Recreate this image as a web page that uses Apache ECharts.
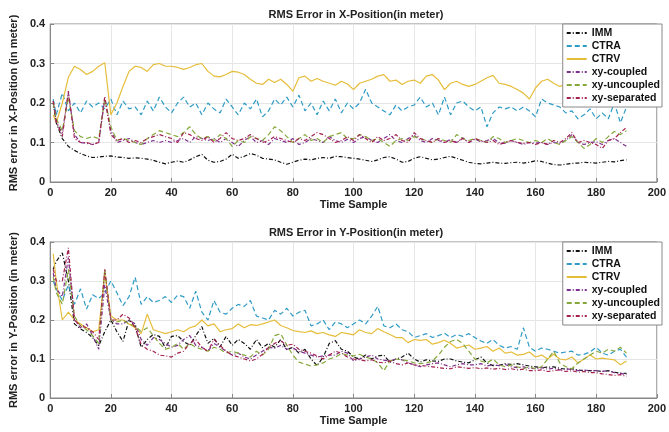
<!DOCTYPE html>
<html>
<head>
<meta charset="utf-8">
<script src="https://cdn.jsdelivr.net/npm/echarts@6/dist/echarts.min.js"></script>
<style>
html,body{margin:0;padding:0;background:#fff}
#chart{width:669px;height:432px}
</style>
</head>
<body>
<div id="chart"></div>
<script>
// sample index (time sample)
var xs = [1,2,4,6,8,10,12,14,16,18,20,22,24,26,28,30,32,34,36,38,40,42,44,46,48,50,52,54,56,58,
  60,62,64,66,68,70,72,74,76,78,80,82,84,86,88,90,92,94,96,98,100,102,104,106,108,110,112,114,116,118,
  120,122,124,126,128,130,132,134,136,138,140,142,144,146,148,150,152,154,156,158,
  160,162,164,166,168,170,172,174,176,178,180,182,184,186,188,190];

var names = ['IMM','CTRA','CTRV','xy-coupled','xy-uncoupled','xy-separated'];

// RMS error in X
var immX = [0.20,0.15,0.11,0.09,0.08,0.072,0.066,0.062,0.063,0.065,
  0.066,0.063,0.062,0.060,0.061,0.060,0.058,0.055,0.050,0.046,
  0.050,0.053,0.050,0.056,0.064,0.070,0.055,0.050,0.052,0.058,
  0.070,0.060,0.065,0.072,0.068,0.060,0.058,0.056,0.050,0.045,
  0.050,0.055,0.058,0.056,0.060,0.062,0.060,0.065,0.064,0.062,
  0.060,0.058,0.055,0.052,0.056,0.062,0.064,0.058,0.050,0.052,
  0.060,0.064,0.060,0.056,0.058,0.062,0.065,0.060,0.055,0.050,
  0.047,0.046,0.048,0.050,0.048,0.047,0.049,0.050,0.048,0.050,
  0.054,0.052,0.048,0.044,0.043,0.045,0.047,0.048,0.050,0.049,
  0.048,0.050,0.052,0.051,0.054,0.056];
var ctraX = [0.21,0.17,0.225,0.18,0.2,0.175,0.205,0.19,0.2,0.185,
  0.21,0.17,0.205,0.185,0.19,0.17,0.205,0.18,0.215,0.19,
  0.175,0.2,0.215,0.19,0.2,0.17,0.2,0.185,0.175,0.21,
  0.19,0.17,0.2,0.185,0.21,0.165,0.18,0.21,0.195,0.215,
  0.19,0.22,0.18,0.2,0.17,0.205,0.18,0.21,0.175,0.2,
  0.185,0.2,0.235,0.2,0.19,0.18,0.17,0.195,0.18,0.19,
  0.195,0.215,0.19,0.2,0.17,0.215,0.17,0.2,0.205,0.19,
  0.18,0.19,0.14,0.175,0.19,0.185,0.19,0.18,0.19,0.18,
  0.165,0.21,0.2,0.195,0.19,0.175,0.18,0.16,0.17,0.185,
  0.16,0.175,0.16,0.2,0.15,0.19];
var ctrvX = [0.17,0.15,0.2,0.265,0.293,0.285,0.272,0.28,0.293,0.302,
  0.17,0.2,0.242,0.28,0.293,0.29,0.28,0.297,0.3,0.293,
  0.293,0.29,0.285,0.29,0.297,0.3,0.28,0.268,0.266,0.272,
  0.28,0.278,0.272,0.26,0.25,0.247,0.26,0.252,0.26,0.247,
  0.23,0.264,0.268,0.255,0.262,0.255,0.25,0.245,0.255,0.248,
  0.234,0.25,0.255,0.26,0.268,0.272,0.255,0.258,0.247,0.255,
  0.258,0.25,0.268,0.272,0.258,0.234,0.25,0.255,0.247,0.242,
  0.247,0.255,0.264,0.27,0.25,0.247,0.242,0.234,0.225,0.21,
  0.238,0.255,0.26,0.25,0.242,0.248,0.24,0.25,0.245,0.24,
  0.245,0.25,0.24,0.248,0.238,0.245];
var coupX = [0.205,0.15,0.125,0.225,0.12,0.1,0.098,0.095,0.1,0.21,
  0.13,0.1,0.105,0.11,0.1,0.095,0.1,0.105,0.1,0.105,
  0.1,0.105,0.11,0.1,0.115,0.11,0.105,0.11,0.1,0.11,
  0.1,0.09,0.105,0.115,0.1,0.105,0.095,0.11,0.105,0.1,
  0.11,0.095,0.1,0.11,0.105,0.1,0.115,0.105,0.1,0.108,
  0.1,0.11,0.115,0.105,0.1,0.11,0.12,0.105,0.1,0.11,
  0.118,0.105,0.1,0.11,0.105,0.1,0.108,0.1,0.112,0.1,
  0.108,0.102,0.105,0.11,0.1,0.098,0.105,0.1,0.095,0.1,
  0.098,0.1,0.095,0.1,0.098,0.105,0.12,0.1,0.095,0.1,
  0.102,0.095,0.105,0.11,0.1,0.09];
var uncoupX = [0.2,0.16,0.13,0.215,0.13,0.115,0.11,0.115,0.11,0.21,
  0.14,0.105,0.11,0.105,0.1,0.095,0.11,0.12,0.13,0.125,
  0.12,0.115,0.125,0.14,0.12,0.11,0.115,0.105,0.12,0.11,
  0.09,0.105,0.1,0.115,0.11,0.105,0.12,0.14,0.13,0.115,
  0.1,0.11,0.12,0.105,0.11,0.1,0.115,0.12,0.125,0.11,
  0.11,0.12,0.115,0.105,0.11,0.1,0.09,0.105,0.11,0.105,
  0.115,0.11,0.105,0.1,0.11,0.105,0.1,0.12,0.11,0.105,
  0.11,0.105,0.1,0.115,0.11,0.1,0.105,0.11,0.105,0.1,
  0.105,0.1,0.11,0.1,0.095,0.105,0.115,0.1,0.085,0.095,
  0.11,0.1,0.115,0.128,0.12,0.13];
var sepX = [0.205,0.155,0.115,0.23,0.11,0.1,0.1,0.095,0.1,0.217,
  0.12,0.105,0.11,0.1,0.105,0.1,0.11,0.115,0.12,0.115,
  0.11,0.1,0.125,0.12,0.11,0.105,0.115,0.1,0.11,0.125,
  0.11,0.105,0.11,0.12,0.11,0.1,0.105,0.115,0.11,0.105,
  0.1,0.11,0.105,0.115,0.125,0.12,0.11,0.1,0.105,0.115,
  0.105,0.12,0.11,0.1,0.115,0.105,0.11,0.12,0.105,0.1,
  0.125,0.11,0.105,0.1,0.11,0.1,0.105,0.1,0.11,0.1,
  0.11,0.105,0.1,0.105,0.095,0.1,0.105,0.1,0.098,0.1,
  0.095,0.1,0.095,0.105,0.1,0.11,0.125,0.1,0.105,0.1,
  0.095,0.085,0.105,0.11,0.125,0.138];

// RMS error in Y
var immY = [0.33,0.35,0.372,0.3,0.19,0.177,0.168,0.155,0.134,0.17,
  0.2,0.17,0.145,0.2,0.185,0.13,0.15,0.163,0.158,0.128,
  0.158,0.16,0.145,0.135,0.16,0.183,0.14,0.153,0.131,0.158,
  0.135,0.15,0.14,0.125,0.15,0.129,0.14,0.13,0.15,0.124,
  0.13,0.115,0.125,0.1,0.083,0.105,0.14,0.147,0.125,0.12,
  0.105,0.1,0.11,0.1,0.108,0.11,0.092,0.1,0.105,0.115,
  0.1,0.092,0.098,0.095,0.094,0.1,0.1,0.095,0.092,0.09,
  0.098,0.105,0.09,0.083,0.084,0.088,0.086,0.088,0.085,0.082,
  0.08,0.078,0.079,0.08,0.076,0.074,0.075,0.072,0.07,0.07,
  0.07,0.068,0.07,0.066,0.064,0.063];
var ctraY = [0.3,0.28,0.25,0.29,0.24,0.28,0.228,0.265,0.255,0.27,
  0.3,0.27,0.237,0.26,0.31,0.24,0.26,0.245,0.25,0.26,
  0.245,0.264,0.26,0.23,0.274,0.22,0.2,0.25,0.22,0.215,
  0.23,0.24,0.235,0.25,0.21,0.205,0.2,0.225,0.215,0.23,
  0.21,0.22,0.225,0.185,0.19,0.2,0.175,0.195,0.19,0.18,
  0.19,0.2,0.19,0.21,0.235,0.185,0.18,0.19,0.175,0.17,
  0.155,0.16,0.165,0.155,0.16,0.166,0.155,0.163,0.158,0.165,
  0.155,0.146,0.14,0.15,0.135,0.128,0.132,0.125,0.18,0.13,
  0.12,0.128,0.125,0.12,0.115,0.118,0.12,0.11,0.112,0.118,
  0.13,0.115,0.11,0.12,0.125,0.105];
var ctrvY = [0.37,0.3,0.2,0.22,0.2,0.19,0.18,0.17,0.175,0.32,
  0.21,0.2,0.2,0.19,0.18,0.165,0.215,0.175,0.17,0.165,
  0.17,0.175,0.17,0.18,0.185,0.2,0.185,0.19,0.17,0.175,
  0.178,0.19,0.18,0.188,0.186,0.19,0.195,0.2,0.186,0.18,
  0.173,0.17,0.168,0.172,0.165,0.168,0.162,0.158,0.168,0.165,
  0.162,0.175,0.168,0.165,0.178,0.17,0.163,0.155,0.155,0.142,
  0.15,0.148,0.15,0.138,0.142,0.148,0.14,0.128,0.132,0.136,
  0.125,0.128,0.132,0.12,0.128,0.115,0.118,0.11,0.112,0.118,
  0.105,0.11,0.1,0.112,0.1,0.098,0.105,0.09,0.1,0.11,
  0.1,0.102,0.1,0.098,0.085,0.095];
var coupY = [0.32,0.28,0.26,0.36,0.2,0.18,0.19,0.16,0.125,0.29,
  0.2,0.19,0.19,0.2,0.19,0.15,0.135,0.155,0.15,0.14,
  0.13,0.135,0.15,0.16,0.135,0.13,0.12,0.14,0.13,0.12,
  0.11,0.115,0.105,0.1,0.11,0.12,0.13,0.128,0.135,0.125,
  0.128,0.12,0.115,0.11,0.105,0.108,0.11,0.11,0.12,0.115,
  0.095,0.1,0.105,0.11,0.1,0.097,0.095,0.1,0.098,0.09,
  0.085,0.08,0.085,0.088,0.09,0.085,0.08,0.085,0.088,0.085,
  0.085,0.088,0.082,0.085,0.083,0.086,0.08,0.078,0.08,0.076,
  0.075,0.078,0.074,0.076,0.072,0.075,0.073,0.07,0.072,0.07,
  0.07,0.068,0.07,0.065,0.063,0.06];
var uncoupY = [0.31,0.27,0.24,0.33,0.21,0.185,0.175,0.16,0.14,0.33,
  0.2,0.195,0.2,0.19,0.185,0.17,0.18,0.16,0.14,0.125,
  0.13,0.14,0.125,0.14,0.13,0.125,0.12,0.13,0.125,0.115,
  0.12,0.115,0.11,0.105,0.12,0.11,0.125,0.16,0.165,0.136,
  0.11,0.092,0.087,0.082,0.085,0.09,0.1,0.105,0.114,0.11,
  0.108,0.112,0.105,0.1,0.09,0.07,0.095,0.1,0.098,0.095,
  0.09,0.088,0.09,0.095,0.11,0.13,0.145,0.15,0.14,0.12,
  0.1,0.095,0.09,0.1,0.085,0.08,0.085,0.08,0.075,0.08,
  0.075,0.08,0.1,0.12,0.09,0.08,0.075,0.09,0.1,0.11,
  0.12,0.115,0.125,0.12,0.13,0.115];
var sepY = [0.33,0.3,0.3,0.385,0.2,0.185,0.18,0.17,0.15,0.33,
  0.2,0.2,0.215,0.205,0.18,0.137,0.125,0.12,0.11,0.108,
  0.105,0.115,0.12,0.14,0.15,0.13,0.12,0.15,0.135,0.12,
  0.11,0.105,0.1,0.095,0.1,0.112,0.13,0.14,0.147,0.135,
  0.138,0.125,0.12,0.115,0.108,0.1,0.11,0.12,0.115,0.105,
  0.1,0.098,0.095,0.098,0.092,0.09,0.095,0.088,0.085,0.09,
  0.085,0.083,0.082,0.08,0.078,0.076,0.075,0.08,0.078,0.076,
  0.078,0.075,0.077,0.074,0.076,0.073,0.075,0.072,0.074,0.07,
  0.07,0.072,0.068,0.07,0.072,0.068,0.07,0.066,0.068,0.065,
  0.065,0.062,0.06,0.058,0.06,0.055];

var yTicks = [0, 0.1, 0.2, 0.3, 0.4];
var xTicks = [0, 20, 40, 60, 80, 100, 120, 140, 160, 180, 200];

var FONT = '"Liberation Sans", Arial, sans-serif';
var colors = ['#111111','#2f9bc6','#e6bd3a','#7e2f8e','#86a83a','#a3204f'];
var dashes = [[4,2,1,2],[5,3],'solid',[4,2,1,2],[5,3],[4,2,1,2]];

var chart = echarts.init(document.getElementById('chart'));

function makeSeries(name, ys, k, gi){
	return {
		name: name,
		type: 'line',
		xAxisIndex: gi,
		yAxisIndex: gi,
		data: xs.map(function(x, i){ return [x, ys[i]]; }),
		symbol: 'none',
		animation: false,
		lineStyle: {color: colors[k], width: 1.2, type: dashes[k]},
		itemStyle: {color: colors[k]}
	};
}

function xAx(gi){
	return {
		gridIndex: gi, type: 'value', min: xTicks[0], max: xTicks[xTicks.length-1], interval: 20,
		name: 'Time Sample', nameLocation: 'middle', nameGap: 17,
		nameTextStyle: {fontFamily: FONT, fontWeight: 'bold', fontSize: 11, color: '#222'},
		axisLine: {show: true, lineStyle: {color: '#888'}},
		axisTick: {show: true, inside: true, length: 4, lineStyle: {color: '#888'}},
		axisLabel: {fontFamily: FONT, fontWeight: 'bold', fontSize: 11, color: '#222', margin: 5},
		splitLine: {show: true, lineStyle: {color: '#e6e6e6'}}
	};
}

function yAx(gi, name){
	return {
		gridIndex: gi, type: 'value', min: yTicks[0], max: yTicks[yTicks.length-1], interval: 0.1,
		name: name, nameLocation: 'middle', nameGap: 22,
		nameTextStyle: {fontFamily: FONT, fontWeight: 'bold', fontSize: 11, color: '#222'},
		axisLine: {show: true, lineStyle: {color: '#888'}},
		axisTick: {show: true, inside: true, length: 4, lineStyle: {color: '#888'}},
		axisLabel: {fontFamily: FONT, fontWeight: 'bold', fontSize: 11, color: '#222', margin: 5},
		splitLine: {show: true, lineStyle: {color: '#e6e6e6'}}
	};
}

function legendAt(top){
	return {
		data: names, orient: 'vertical', right: 7, top: top,
		backgroundColor: '#fff', borderColor: '#888', borderWidth: 1,
		padding: [3,2,3,3], itemGap: 1, itemWidth: 20, itemHeight: 8,
		itemStyle: {opacity: 0},
		textStyle: {fontFamily: FONT, fontWeight: 'bold', fontSize: 10.5, color: '#111', lineHeight: 12},
		z: 10
	};
}

var seriesList = [];
[immX, ctraX, ctrvX, coupX, uncoupX, sepX].forEach(function(ys, k){
	seriesList.push(makeSeries(names[k], ys, k, 0));
});
[immY, ctraY, ctrvY, coupY, uncoupY, sepY].forEach(function(ys, k){
	seriesList.push(makeSeries(names[k], ys, k, 1));
});

var option = {
	backgroundColor: '#fff',
	animation: false,
	title: [
		{text: 'RMS Error in X-Position(in meter)', left: 351, top: 4, textAlign: 'center',
		 textStyle: {fontFamily: FONT, fontWeight: 'bold', fontSize: 11, color: '#222'}},
		{text: 'RMS Error in Y-Position(in meter)', left: 351, top: 222, textAlign: 'center',
		 textStyle: {fontFamily: FONT, fontWeight: 'bold', fontSize: 11, color: '#222'}}
	],
	legend: [legendAt(24), legendAt(242)],
	grid: [
		{left: 40, right: 7, top: 24, height: 158, show: true, borderColor: '#888', borderWidth: 1},
		{left: 40, right: 7, top: 242, height: 156, show: true, borderColor: '#888', borderWidth: 1}
	],
	xAxis: [xAx(0), xAx(1)],
	yAxis: [yAx(0, 'RMS error in X-Position (in meter)'), yAx(1, 'RMS error in Y-Position (in meter)')],
	series: seriesList
};

chart.setOption(option);
</script>
</body>
</html>
